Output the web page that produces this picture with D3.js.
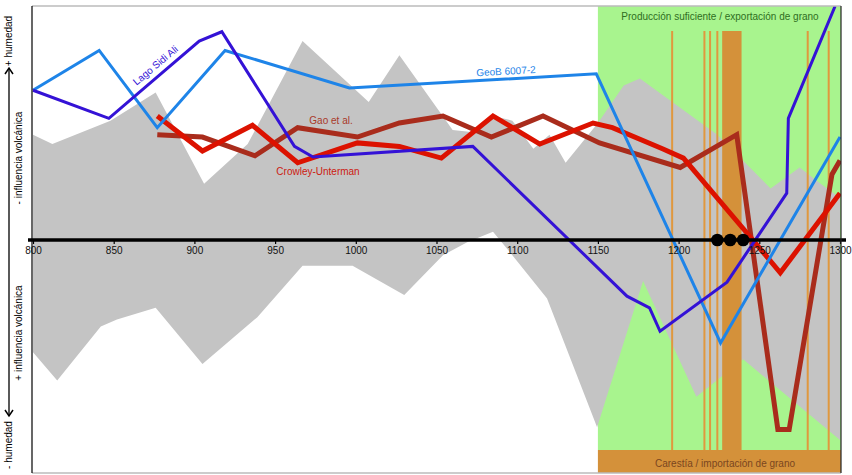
<!DOCTYPE html>
<html><head><meta charset="utf-8">
<script src="https://cdn.jsdelivr.net/npm/d3@7/dist/d3.min.js"></script>
<style>body{margin:0;background:#fff;} svg{display:block;font-family:"Liberation Sans",Arial,sans-serif;}</style>
</head><body><svg id="c" width="852" height="475"></svg>
<script>
// ---- data ----
const tickYears = [800, 850, 900, 950, 1000, 1050, 1100, 1150, 1200, 1250, 1300];
const tickLabels = ["800", "850", "900", "950", "1000", "1050", "1100", "1150", "1200", "1250", "1300"];

const lagoYears  = [800, 847, 903, 917, 962, 973.5, 1072.5, 1168, 1182, 1188.5, 1230, 1267, 1268, 1297];
const lagoValues = [64, 52, 85, 89, 40, 35.5, 40, -24, -29, -39, -18, 20, 52, 100];

const geobYears  = [800, 841, 877, 919, 996, 1149, 1226, 1300];
const geobValues = [64, 81, 48, 81, 65, 71, -44, 44];

const crowleyYears  = [877, 905, 936, 964, 1001, 1027, 1053, 1085, 1114, 1147, 1159, 1190, 1203, 1246, 1263, 1300];
const crowleyValues = [53, 38, 49, 33, 41.5, 40, 35, 53, 41, 50, 48, 39, 35, 0, -14, 20];

const gaoYears  = [877, 905, 937.5, 964, 1001, 1027, 1054, 1084, 1116, 1151, 1201, 1236, 1261.5, 1268.5, 1295, 1300];
const gaoValues = [45, 44, 36, 48, 44, 50, 53, 44, 53, 41.5, 31, 45, -81, -81, 28, 34];

const bandUpperYears  = [800, 812, 848, 876, 906, 933, 967, 1008, 1027, 1060, 1073, 1085, 1097, 1110, 1120, 1130, 1150, 1166, 1176, 1224, 1257, 1275, 1288, 1300];
const bandUpperValues = [45, 41, 51, 63, 24, 41, 85, 59, 79, 47, 46, 53, 51, 39, 45, 33, 50, 66, 69, 45, 22, 31, 24, 18];
const bandLowerYears  = [800, 815, 842, 852, 876, 905, 939, 967, 998, 1030, 1054, 1069, 1085, 1097, 1118.5, 1149.5, 1178, 1211, 1240, 1300];
const bandLowerValues = [-48, -60, -37, -34, -29, -53, -33, -11, -11, -23.5, -6.5, -1, 3.5, -6.5, -25, -80, -17.5, -67, -51, -85.5];

const surplusPeriod = [1150, 1300];
const famineYears = [1196, 1216, 1219.5, 1224, 1280, 1293];
const famineBand = [1227, 1239];
const eruptionYears = [1224, 1232, 1240];

// ---- layout ----
const svg = d3.select("#c");
const x = d3.scaleLinear().domain([800, 1300]).range([33, 840]);
const y = d3.scaleLinear().domain([-100, 100]).range([474, 6]);
const L = 32, R = 841, T = 6, B = 473, stripTop = 450, eventTop = 31;

svg.append("defs").append("clipPath").attr("id", "clip")
  .append("rect").attr("x", L).attr("y", T).attr("width", R - L).attr("height", B - T);
const g = svg.append("g").attr("clip-path", "url(#clip)");

// green region
g.append("rect").attr("x", x(surplusPeriod[0])).attr("y", T)
  .attr("width", R - x(surplusPeriod[0])).attr("height", stripTop - T).attr("fill", "#a8f48e");
g.append("rect").attr("x", x(surplusPeriod[0])).attr("y", stripTop)
  .attr("width", R - x(surplusPeriod[0])).attr("height", B - stripTop).attr("fill", "#d4913a");

// gray band
const upper = bandUpperYears.map((d, i) => [x(d), y(bandUpperValues[i])]);
const lower = bandLowerYears.map((d, i) => [x(d), y(bandLowerValues[i])]).reverse();
g.append("path").attr("d", d3.line()(upper.concat(lower)) + "Z").attr("fill", "#c4c4c4");

// famine events
g.append("rect").attr("x", x(famineBand[0])).attr("y", eventTop)
  .attr("width", x(famineBand[1]) - x(famineBand[0])).attr("height", stripTop - eventTop)
  .attr("fill", "#d4913a");
g.selectAll(".ev").data(famineYears).join("line")
  .attr("x1", d => x(d)).attr("x2", d => x(d)).attr("y1", eventTop).attr("y2", stripTop)
  .attr("stroke", "#e0983e").attr("stroke-width", 2);

// axis
svg.append("line").attr("x1", 28).attr("x2", 846).attr("y1", y(0)).attr("y2", y(0))
  .attr("stroke", "#000").attr("stroke-width", 3.5);
const ax = svg.append("g").attr("transform", `translate(0,${y(0)})`)
  .call(d3.axisBottom(x).tickValues(tickYears).tickFormat((d, i) => tickLabels[i]).tickSize(4).tickPadding(3));
ax.select(".domain").remove();
ax.selectAll("line").attr("stroke-width", 1.2);
ax.selectAll("text").attr("font-size", 10).attr("font-family", "Liberation Sans, Arial, sans-serif").attr("fill", "#111");

// series
const line = (ys, vs) => d3.line()(ys.map((d, i) => [x(d), y(vs[i])]));
g.append("path").attr("d", line(gaoYears, gaoValues)).attr("fill", "none").attr("stroke", "#a92c1c").attr("stroke-width", 5);
g.append("path").attr("d", line(crowleyYears, crowleyValues)).attr("fill", "none").attr("stroke", "#dc1200").attr("stroke-width", 5);
g.append("path").attr("d", line(geobYears, geobValues)).attr("fill", "none").attr("stroke", "#1e84e8").attr("stroke-width", 3);
g.append("path").attr("d", line(lagoYears, lagoValues)).attr("fill", "none").attr("stroke", "#3412d6").attr("stroke-width", 3);

// eruption dots
svg.selectAll(".dot").data(eruptionYears).join("circle")
  .attr("cx", d => x(d)).attr("cy", y(0)).attr("r", 6.3).attr("fill", "#000");

// frame
svg.append("line").attr("x1", L).attr("x2", R).attr("y1", T).attr("y2", T).attr("stroke", "#bbb").attr("stroke-width", 1.5);
svg.append("line").attr("x1", L).attr("x2", R).attr("y1", B).attr("y2", B).attr("stroke", "#bbb").attr("stroke-width", 1.5);
svg.append("line").attr("x1", L).attr("x2", L).attr("y1", T).attr("y2", B).attr("stroke", "#000").attr("stroke-width", 1.2);
svg.append("line").attr("x1", R).attr("x2", R).attr("y1", T).attr("y2", B).attr("stroke", "#222").attr("stroke-width", 1.2);

// labels
const txt = (s, px, py, col, rot) => svg.append("text").text(s)
  .attr("transform", `translate(${px},${py}) rotate(${rot || 0})`)
  .attr("text-anchor", "middle").attr("dominant-baseline", "middle")
  .attr("font-size", 10).attr("fill", col);
txt("Producción suficiente / exportación de grano", 720, 17, "#2f6e1e");
txt("Carestía / importación de grano", 725, 464, "#7a4620");
txt("Lago Sidi Ali", 156, 66, "#3412d6", -40);
txt("GeoB 6007-2", 506, 72, "#1e84e8", -3);
txt("Gao et al.", 331, 121, "#a9392a");
txt("Crowley-Unterman", 318, 172, "#cc1a10");

// left annotations
txt("+ humedad", 9, 41, "#000", -90);
txt("- humedad", 9, 445, "#000", -90);
txt("- influencia volcánica", 19, 158, "#000", -90);
txt("+ influencia volcánica", 19, 333, "#000", -90);
svg.append("line").attr("x1", 9).attr("x2", 9).attr("y1", 69).attr("y2", 416).attr("stroke", "#000").attr("stroke-width", 1.3);
svg.append("path").attr("d", "M5,74 L9,68 L13,74").attr("fill", "none").attr("stroke", "#000").attr("stroke-width", 1.5);
svg.append("path").attr("d", "M5,410 L9,416 L13,410").attr("fill", "none").attr("stroke", "#000").attr("stroke-width", 1.5);
</script></body></html>
